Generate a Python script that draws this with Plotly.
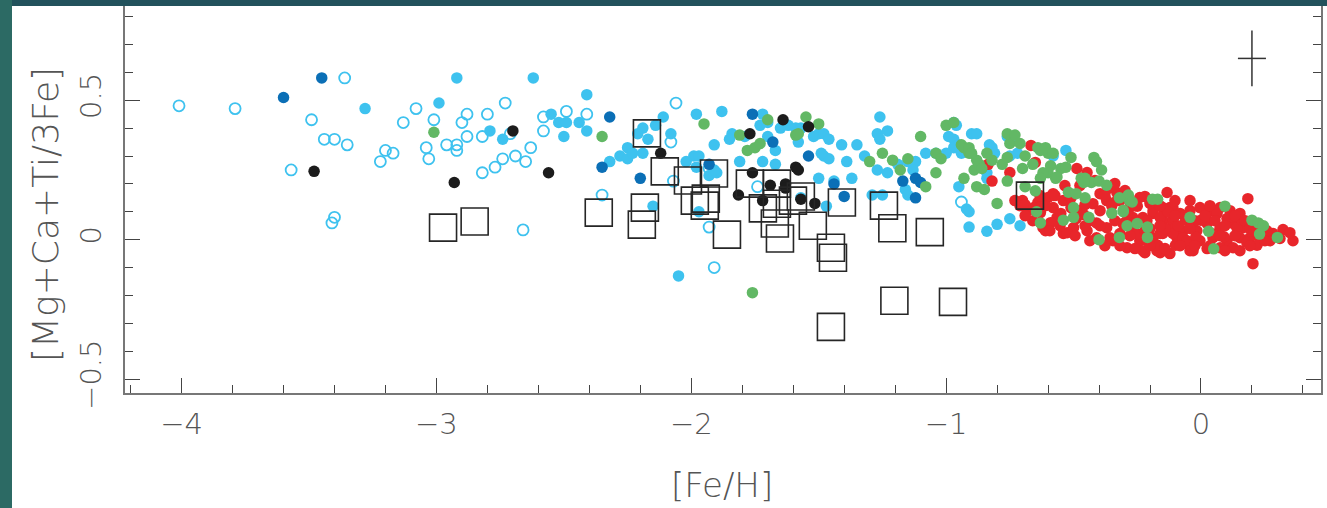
import plotly.graph_objects as go

# ---- stellar abundance samples: ([Fe/H], [Mg+Ca+Ti/3Fe]) ----
halo_open = [
    (-4.01, 0.48), (-3.79, 0.47), (-3.36, 0.58), (-3.49, 0.43), (-3.44, 0.36), (-3.40, 0.36),
    (-3.35, 0.34), (-3.57, 0.25), (-3.40, 0.08), (-3.41, 0.06), (-3.08, 0.47), (-3.13, 0.42),
    (-3.01, 0.43), (-3.04, 0.33), (-3.03, 0.29), (-3.20, 0.32), (-3.17, 0.31), (-3.22, 0.28),
    (-2.96, 0.34), (-2.92, 0.34), (-2.92, 0.32), (-2.88, 0.45), (-2.90, 0.42), (-2.88, 0.37),
    (-2.82, 0.37), (-2.80, 0.45), (-2.73, 0.49), (-2.82, 0.24), (-2.77, 0.26), (-2.74, 0.29),
    (-2.69, 0.30), (-2.65, 0.28), (-2.63, 0.33), (-2.71, 0.38), (-2.58, 0.44), (-2.58, 0.39),
    (-2.66, 0.035), (-2.49, 0.46), (-2.41, 0.45), (-2.35, 0.16), (-2.06, 0.49), (-2.08, 0.35),
    (-2.07, 0.21), (-1.93, 0.045), (-1.91, -0.10), (-1.93, 0.255), (-1.74, 0.19), (-0.94, 0.135),
]

halo_filled = [
    (-2.92, 0.58), (-2.62, 0.58), (-3.28, 0.47), (-2.99, 0.49), (-2.79, 0.39), (-2.74, 0.36),
    (-2.41, 0.52), (-2.55, 0.45), (-2.52, 0.42), (-2.49, 0.42), (-2.50, 0.37), (-2.44, 0.42),
    (-2.41, 0.39), (-2.32, 0.28), (-2.28, 0.30), (-2.25, 0.29), (-2.25, 0.33), (-2.11, 0.44),
    (-2.21, 0.38), (-2.19, 0.40), (-2.17, 0.36), (-2.14, 0.41), (-2.19, 0.31), (-2.23, 0.31),
    (-2.08, 0.38), (-2.15, 0.12), (-2.05, -0.13), (-1.99, 0.30), (-1.97, 0.30), (-1.98, 0.26),
    (-2.02, 0.28), (-1.98, 0.45), (-1.88, 0.46), (-1.91, 0.34), (-1.93, 0.23), (-1.90, 0.24),
    (-1.97, 0.10), (-1.84, 0.38), (-1.85, 0.36), (-1.72, 0.45), (-1.70, 0.42), (-1.73, 0.41),
    (-1.70, 0.37), (-1.67, 0.32), (-1.72, 0.28), (-1.67, 0.27), (-1.65, 0.40), (-1.62, 0.41),
    (-1.59, 0.40), (-1.58, 0.35), (-1.50, 0.38), (-1.48, 0.38), (-1.46, 0.36), (-1.48, 0.30),
    (-1.46, 0.29), (-1.49, 0.31), (-1.41, 0.34), (-1.39, 0.28), (-1.37, 0.22), (-1.50, 0.22),
    (-1.44, 0.21), (-1.57, 0.15), (-1.47, 0.12), (-1.35, 0.34), (-1.32, 0.30), (-1.26, 0.44),
    (-1.27, 0.38), (-1.26, 0.36), (-1.23, 0.39), (-1.27, 0.25), (-1.23, 0.24), (-1.29, 0.16),
    (-1.19, 0.27), (-1.15, 0.28), (-1.12, 0.28), (-1.13, 0.25), (-1.16, 0.18), (-1.15, 0.16),
    (-1.08, 0.31), (-1.04, 0.31), (-0.97, 0.42), (-0.96, 0.41), (-0.99, 0.37), (-0.97, 0.36),
    (-0.95, 0.34), (-0.97, 0.33), (-0.94, 0.31), (-0.90, 0.38), (-0.88, 0.38), (-0.95, 0.19),
    (-0.92, 0.11), (-0.91, 0.10), (-0.91, 0.045), (-0.84, 0.22), (-0.84, 0.24), (-0.83, 0.34),
    (-0.82, 0.33), (-0.81, 0.31), (-0.76, 0.37), (-0.74, 0.37), (-0.75, 0.30), (-0.72, 0.31),
    (-0.80, 0.055), (-0.84, 0.03), (-0.75, 0.075), (-0.71, 0.05), (-0.58, 0.30), (-0.53, 0.32),
    (-1.81, 0.28), (-1.25, 0.16), (-1.91, 0.25), (-1.79, 0.37), (-1.52, 0.37), (-1.57, 0.40),
    (-1.00, 0.31),
]

dark_blue = [
    (-3.45, 0.58), (-3.60, 0.51), (-2.32, 0.44), (-2.35, 0.26), (-2.20, 0.22), (-1.93, 0.27),
    (-1.76, 0.45), (-1.68, 0.35), (-1.54, 0.30), (-1.44, 0.20), (-1.40, 0.155), (-1.17, 0.21),
    (-1.12, 0.22), (-1.10, 0.205), (-1.12, 0.15),
]

black_stars = [
    (-3.48, 0.245), (-2.93, 0.205), (-2.56, 0.24), (-2.70, 0.39), (-2.12, 0.31), (-1.77, 0.38),
    (-1.64, 0.43), (-1.54, 0.405), (-1.815, 0.16), (-1.76, 0.24), (-1.69, 0.195), (-1.63, 0.20),
    (-1.72, 0.14), (-1.59, 0.26), (-1.58, 0.25), (-1.63, 0.185), (-1.57, 0.145), (-1.515, 0.13),
]

thick_disk = [
    (-3.01, 0.385), (-2.35, 0.37), (-1.95, 0.415), (-1.81, 0.375), (-1.78, 0.32), (-1.75, 0.33),
    (-1.73, 0.345), (-1.59, 0.375), (-1.55, 0.44), (-1.50, 0.415), (-1.58, 0.38), (-1.76, -0.19),
    (-1.70, 0.43), (-1.30, 0.28), (-1.25, 0.31), (-1.21, 0.285), (-1.18, 0.25), (-1.15, 0.29),
    (-1.10, 0.37), (-1.08, 0.19), (-1.04, 0.31), (-1.02, 0.29), (-1.04, 0.24), (-1.00, 0.41),
    (-0.97, 0.42), (-0.93, 0.33), (-0.91, 0.31), (-0.88, 0.285), (-0.89, 0.25), (-0.93, 0.22),
    (-0.88, 0.19), (-0.94, 0.34), (-0.91, 0.33), (-0.90, 0.31), (-0.84, 0.31), (-0.82, 0.285),
    (-0.78, 0.27), (-0.76, 0.295), (-0.75, 0.345), (-0.71, 0.345), (-0.76, 0.38), (-0.73, 0.375),
    (-0.87, 0.27), (-0.86, 0.255), (-0.85, 0.18), (-0.80, 0.13), (-0.76, 0.21), (-0.70, 0.255),
    (-0.66, 0.27), (-0.64, 0.33), (-0.60, 0.31), (-0.59, 0.265), (-0.55, 0.255), (-0.53, 0.26),
    (-0.51, 0.295), (-0.60, 0.24), (-0.57, 0.22), (-0.69, 0.30), (-0.63, 0.32), (-0.61, 0.33),
    (-0.58, 0.31), (-0.62, 0.24), (-0.63, 0.22), (-0.565, 0.225), (-0.42, 0.295), (-0.41, 0.28),
    (-0.39, 0.25), (-0.47, 0.22), (-0.43, 0.205), (-0.40, 0.21), (-0.37, 0.195), (-0.52, 0.17),
    (-0.49, 0.165), (-0.455, 0.15), (-0.455, 0.22), (-0.46, 0.205), (-0.69, 0.19), (-0.65, 0.175),
    (-0.54, 0.07), (-0.50, 0.115), (-0.40, 0.0), (-0.35, 0.095), (-0.305, 0.105), (-0.28, 0.14),
    (-0.29, 0.05), (-0.25, 0.058), (-0.285, 0.16), (-0.27, 0.135), (-0.19, 0.145), (-0.17, 0.145),
    (-0.305, 0.10), (-0.21, 0.045), (-0.043, 0.08), (0.094, 0.12), (0.03, 0.03), (0.05, -0.033),
    (0.20, 0.07), (0.225, 0.06), (0.245, 0.05), (0.23, 0.02), (0.30, 0.008), (-0.645, 0.10),
    (-0.32, 0.008), (-0.44, 0.08), (-0.32, 0.15), (-0.63, 0.06), (-0.21, 0.008), (-0.50, 0.08),
]

thin_disk = [
    (-0.667, 0.338), (-0.65, 0.277), (-0.75, 0.241), (-0.487, 0.255), (-0.447, 0.241),
    (-0.345, 0.194), (-0.33, 0.169), (-0.22, 0.155), (-0.133, 0.169), (-0.122, 0.115),
    (0.184, 0.147), (0.204, -0.086), (-0.82, 0.21), (-0.835, 0.27),
    (-0.73, 0.140), (-0.70, 0.140), (-0.68, 0.104), (-0.64, 0.133), (-0.60, 0.151), (-0.58, 0.115),
    (-0.66, 0.068), (-0.62, 0.043), (-0.565, 0.079), (-0.54, 0.022), (-0.71, 0.122), (-0.63, 0.097),
    (-0.59, 0.061), (-0.61, 0.032), (-0.69, 0.125), (-0.655, 0.115), (-0.625, 0.12),
    (-0.58, 0.165), (-0.54, 0.140), (-0.475, 0.104), (-0.424, 0.129), (-0.396, 0.165), (-0.365, 0.183),
    (-0.338, 0.201), (-0.396, 0.104), (-0.50, 0.043), (-0.447, 0.032), (-0.41, 0.007), (-0.37, 0.043),
    (-0.345, -0.004), (-0.525, 0.025), (-0.37, 0.140), (-0.33, 0.140), (-0.436, 0.068), (-0.55, 0.094),
    (-0.51, 0.115), (-0.49, 0.075), (-0.46, 0.09), (-0.41, 0.06), (-0.51, 0.15), (-0.455, 0.125),
    (-0.306, 0.058), (-0.267, 0.032), (-0.228, 0.079), (-0.188, 0.094), (-0.15, 0.068), (-0.11, 0.058),
    (-0.24, -0.004), (-0.188, 0.007), (-0.15, 0.022), (-0.094, 0.007), (-0.07, 0.032), (-0.22, -0.047),
    (-0.16, -0.047), (-0.122, -0.050), (-0.07, -0.014), (-0.318, 0.140), (-0.28, 0.115), (-0.24, 0.151),
    (-0.188, 0.104), (-0.15, 0.115), (-0.11, 0.115), (-0.267, 0.079), (-0.212, 0.068), (-0.16, 0.079),
    (-0.11, 0.079), (-0.082, 0.094), (-0.318, 0.022), (-0.267, 0.022), (-0.212, -0.004), (-0.16, 0.022),
    (-0.11, 0.022), (-0.07, 0.007), (-0.228, -0.040), (-0.173, -0.040), (-0.29, -0.029), (-0.357, 0.007),
    (-0.29, 0.09), (-0.25, 0.12), (-0.20, 0.13), (-0.13, 0.10), (-0.09, 0.05), (-0.30, 0.10),
    (-0.26, 0.06), (-0.20, 0.04), (-0.14, 0.04), (-0.10, -0.02), (-0.17, -0.02), (-0.25, 0.02),
    (-0.043, 0.104), (-0.004, 0.115), (0.035, 0.104), (0.075, 0.115), (0.114, 0.104), (0.153, 0.094),
    (-0.031, 0.058), (0.024, 0.058), (0.075, 0.043), (0.126, 0.058), (0.165, 0.043), (-0.055, -0.004),
    (-0.004, -0.004), (0.047, 0.007), (0.102, -0.004), (0.153, 0.007), (-0.031, -0.040), (0.024, -0.032),
    (0.075, -0.029), (0.126, -0.029), (-0.016, 0.032), (0.063, 0.094), (0.102, 0.076), (0.141, 0.043),
    (-0.043, -0.04), (0.02, 0.08), (0.05, 0.02), (0.09, 0.01), (0.13, 0.08), (0.16, 0.07),
    (-0.02, 0.01), (0.00, 0.07), (-0.06, 0.07),
    (0.204, 0.058), (0.243, 0.043), (0.283, 0.022), (0.322, 0.036), (0.361, -0.004), (0.192, 0.007),
    (0.232, 0.007), (0.271, -0.004), (0.259, 0.032), (0.20, 0.03), (0.22, -0.02), (0.30, 0.01),
    (0.18, -0.01),
    (-0.61, 0.122), (-0.573, 0.158), (-0.534, 0.194), (-0.514, 0.158), (-0.475, 0.194),
    (-0.416, 0.212), (-0.377, 0.158), (-0.35, 0.122), (-0.298, 0.176), (-0.259, 0.122),
    (-0.20, 0.14), (-0.161, 0.122), (-0.102, 0.14), (-0.063, 0.086), (-0.024, 0.068),
    (0.016, 0.086), (0.055, 0.068), (0.094, 0.05), (0.133, 0.086), (0.173, 0.068),
    (0.212, 0.032), (0.251, -0.004), (0.31, 0.004), (0.349, 0.025), (-0.553, 0.05),
    (-0.494, 0.014), (-0.436, -0.004), (-0.377, -0.022), (-0.318, -0.022), (-0.259, -0.032),
    (-0.20, -0.022), (-0.141, -0.032), (-0.082, -0.022), (-0.024, -0.022), (0.035, -0.022),
    (0.094, -0.04), (0.153, -0.04), (0.192, -0.022), (-0.632, 0.158), (-0.69, 0.086),
    (-0.593, 0.032), (-0.455, 0.05), (-0.396, 0.05), (-0.338, 0.068), (-0.279, 0.014),
    (-0.22, 0.032), (-0.161, 0.05), (-0.102, 0.086), (-0.043, 0.04), (0.075, 0.014),
    (0.133, 0.014), (0.192, 0.04), (-0.043, 0.14), (0.035, 0.122),
]

dwarf_galaxy = [
    (-2.974, 0.043), (-2.85, 0.065), (-2.363, 0.097), (-2.182, 0.115), (-2.194, 0.054),
    (-2.174, 0.381), (-2.104, 0.245), (-2.013, 0.212), (-1.911, 0.237), (-1.986, 0.14),
    (-1.943, 0.147), (-1.947, 0.122), (-1.86, 0.018), (-1.77, 0.201), (-1.719, 0.112),
    (-1.664, 0.201), (-1.664, 0.129), (-1.601, 0.140), (-1.57, 0.155), (-1.672, 0.058),
    (-1.652, 0.004), (-1.523, 0.050), (-1.409, 0.133), (-1.452, -0.029), (-1.444, -0.065),
    (-1.244, 0.122), (-1.211, 0.041), (-1.064, 0.027), (-1.452, -0.313), (-1.203, -0.219),
    (-0.973, -0.223), (-0.671, 0.158),
]

# typical uncertainty shown in the corner
err_point = (0.20, 0.65)
err_size = (0.055, 0.10)

LIGHT_BLUE = "#3ec2ef"
DARK_BLUE = "#0b6fb6"
GREEN = "#62b865"
RED = "#e8262b"
BLACK = "#1c1c1c"


def xs(pts):
    return [p[0] for p in pts]


def ys(pts):
    return [p[1] for p in pts]


fig = go.Figure()

DOT = 11.5
fig.add_trace(go.Scatter(
    x=xs(halo_open), y=ys(halo_open), mode="markers",
    marker=dict(symbol="circle-open", size=11, color=LIGHT_BLUE,
                line=dict(width=1.8, color=LIGHT_BLUE)),
))
fig.add_trace(go.Scatter(
    x=xs(halo_filled), y=ys(halo_filled), mode="markers",
    marker=dict(symbol="circle", size=DOT, color=LIGHT_BLUE, line=dict(width=0)),
))
fig.add_trace(go.Scatter(
    x=xs(dark_blue), y=ys(dark_blue), mode="markers",
    marker=dict(symbol="circle", size=DOT, color=DARK_BLUE, line=dict(width=0)),
))
fig.add_trace(go.Scatter(
    x=xs(thin_disk), y=ys(thin_disk), mode="markers",
    marker=dict(symbol="circle", size=DOT, color=RED, line=dict(width=0)),
))
fig.add_trace(go.Scatter(
    x=xs(thick_disk), y=ys(thick_disk), mode="markers",
    marker=dict(symbol="circle", size=DOT, color=GREEN, line=dict(width=0)),
))
fig.add_trace(go.Scatter(
    x=xs(black_stars), y=ys(black_stars), mode="markers",
    marker=dict(symbol="circle", size=DOT, color=BLACK, line=dict(width=0)),
))
fig.add_trace(go.Scatter(
    x=xs(dwarf_galaxy), y=ys(dwarf_galaxy), mode="markers",
    marker=dict(symbol="square-open", size=27, color="#262626",
                line=dict(width=1.6, color="#262626")),
))
fig.add_trace(go.Scatter(
    x=[err_point[0]], y=[err_point[1]], mode="markers",
    marker=dict(size=1, color="rgba(0,0,0,0)"),
    error_x=dict(type="constant", value=err_size[0], width=0, thickness=1.5, color="#333"),
    error_y=dict(type="constant", value=err_size[1], width=0, thickness=1.5, color="#333"),
))

FONT = "DejaVu Sans"
TEXT_COLOR = "#555555"
TICK_FONT = dict(family=FONT, size=29, color=TEXT_COLOR, weight=200)

fig.update_xaxes(
    range=[-4.222, 0.471], tick0=0, dtick=1, automargin=False,
    ticks="inside", ticklen=15, tickwidth=1.4, tickcolor="#444",
    minor=dict(dtick=0.2, ticks="inside", ticklen=8, tickwidth=1.3, tickcolor="#444"),
    showline=True, linewidth=2, linecolor="#777", mirror=False,
    showgrid=False, zeroline=False, tickfont=TICK_FONT, ticklabelstandoff=4,
)
fig.update_yaxes(
    range=[-0.55, 0.838], tick0=0, dtick=0.5, automargin=False,
    ticks="inside", ticklen=15, tickwidth=1.4, tickcolor="#444",
    minor=dict(dtick=0.1, ticks="inside", ticklen=8, tickwidth=1.3, tickcolor="#444"),
    showline=True, linewidth=2, linecolor="#777", mirror="ticks",
    showgrid=False, zeroline=False, tickfont=TICK_FONT, tickangle=-90,
    ticklabelstandoff=10,
)

W, H = 1327, 508
L, R, T, B = 125, 6, 6, 115
pw, ph = W - L - R, H - T - B


def px_x(p):
    return (p - L) / pw


def px_y(p):
    return (H - B - p) / ph


fig.update_layout(
    width=W, height=H,
    margin=dict(l=L, r=R, t=T, b=B, pad=0, autoexpand=False),
    paper_bgcolor="#2c6a64", plot_bgcolor="white",
    showlegend=False,
    shapes=[
        dict(type="rect", xref="paper", yref="paper", layer="below",
             x0=px_x(12), x1=px_x(W + 2), y0=px_y(H + 2), y1=px_y(6),
             fillcolor="white", line=dict(width=0)),
        dict(type="rect", xref="paper", yref="paper", layer="below",
             x0=px_x(12), x1=px_x(W + 2), y0=px_y(6), y1=px_y(-2),
             fillcolor="#22525c", line=dict(width=0)),
    ],
    annotations=[
        dict(text="[Fe/H]", xref="paper", yref="paper", x=px_x(722), y=px_y(485),
             showarrow=False, xanchor="center", yanchor="middle",
             font=dict(family=FONT, size=34, color=TEXT_COLOR, weight=200)),
        dict(text="[Mg+Ca+Ti/3Fe]", xref="paper", yref="paper", x=px_x(45), y=px_y(215),
             showarrow=False, xanchor="center", yanchor="middle", textangle=-90,
             font=dict(family=FONT, size=36, color=TEXT_COLOR, weight=200)),
    ],
)

# keep the page itself free of margins and scrollbars
page_js = (
    "document.documentElement.style.overflow='hidden';"
    "document.body.style.margin='0';"
    "document.body.style.overflow='hidden';"
)

fig.write_html("out.html", post_script=page_js)
